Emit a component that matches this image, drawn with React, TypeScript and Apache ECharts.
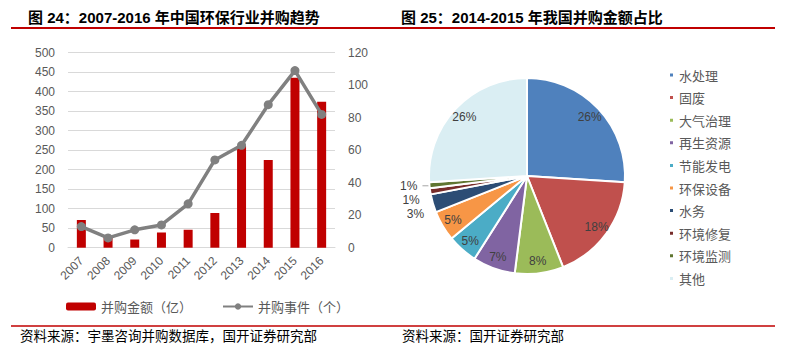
import React, { useEffect, useRef } from "react";
import * as echarts from "echarts";

const years = ["2007", "2008", "2009", "2010", "2011", "2012", "2013", "2014", "2015", "2016"];
const dealAmount = [71, 30, 21, 39, 46, 89, 261, 225, 436, 374];
const dealCount = [13, 6, 11, 14, 27, 54, 63, 88, 109, 82];

const sectors = ["水处理", "固废", "大气治理", "再生资源", "节能发电", "环保设备", "水务", "环境修复", "环境监测", "其他"];
const shares = [26, 18, 8, 7, 5, 5, 3, 1, 1, 26];
const sectorColors = ["#4F81BD", "#C0504D", "#9BBB59", "#8064A2", "#4BACC6", "#F79646", "#2C4D75", "#772C2A", "#5F7530", "#DAEEF3"];
const smallSlices = ["水务", "环境修复", "环境监测"];

const latin = "'Liberation Sans', 'Noto Sans CJK SC', sans-serif";
const cjk = "'Noto Sans CJK SC', sans-serif";

export default function App() {
  const ref = useRef<HTMLDivElement>(null);
  useEffect(() => {
    if (!ref.current) return;
    const chart = echarts.init(ref.current, null, { renderer: "svg" });
    const mainPieData = sectors.map((name, i) => {
      const small = smallSlices.includes(name);
      return {
        name,
        value: shares[i],
        itemStyle: { color: sectorColors[i] },
        label: { show: small },
        labelLine: { show: name === "环境监测" },
      };
    });
    const overlayData = sectors.map((name, i) => ({
      name,
      value: shares[i],
      label: { show: !smallSlices.includes(name) },
    }));
    chart.setOption({
      animation: false,
      title: [
        {
          text: "图 24：2007-2016 年中国环保行业并购趋势",
          left: 28,
          top: 10,
          padding: 0,
          textStyle: { fontSize: 15, fontWeight: "bold", color: "#000", fontFamily: latin },
        },
        {
          text: "图 25：2014-2015 年我国并购金额占比",
          left: 401,
          top: 10,
          padding: 0,
          textStyle: { fontSize: 15, fontWeight: "bold", color: "#000", fontFamily: latin },
        },
        {
          text: "资料来源：宇墨咨询并购数据库，国开证券研究部",
          left: 20,
          top: 328,
          padding: 0,
          textStyle: { fontSize: 13.5, fontWeight: "normal", color: "#000", fontFamily: cjk },
        },
        {
          text: "资料来源：国开证券研究部",
          left: 402,
          top: 328,
          padding: 0,
          textStyle: { fontSize: 13.5, fontWeight: "normal", color: "#000", fontFamily: cjk },
        },
      ],
      graphic: [
        { type: "line", shape: { x1: 11, y1: 28, x2: 775, y2: 28 }, style: { stroke: "#C00000", lineWidth: 2 } },
        { type: "line", shape: { x1: 11, y1: 326, x2: 775, y2: 326 }, style: { stroke: "#C00000", lineWidth: 1.5 } },
      ],
      legend: [
        {
          data: ["并购金额（亿）", "并购事件（个）"],
          left: 66,
          top: 300,
          padding: 0,
          itemWidth: 30,
          itemHeight: 8,
          itemGap: 30,
          textStyle: { fontSize: 13, color: "#595959", fontFamily: cjk },
        },
        {
          data: sectors.map((name, i) => ({ name, itemStyle: { color: sectorColors[i] } })),
          orient: "vertical",
          left: 668,
          top: 68,
          padding: 0,
          icon: "rect",
          itemWidth: 5,
          itemHeight: 5,
          itemGap: 8.6,
          textStyle: { fontSize: 13, color: "#595959", fontFamily: cjk, lineHeight: 14 },
        },
      ],
      grid: [{ left: 68, top: 52.7, width: 267, height: 195 }],
      xAxis: [
        {
          type: "category",
          data: years,
          gridIndex: 0,
          axisLine: { lineStyle: { color: "#D9D9D9" } },
          axisTick: { show: false },
          axisLabel: { rotate: 45, margin: 11, fontSize: 12, color: "#595959", fontFamily: latin },
        },
      ],
      yAxis: [
        {
          type: "value",
          gridIndex: 0,
          min: 0,
          max: 500,
          interval: 50,
          axisLine: { show: false },
          axisTick: { show: false },
          splitLine: { lineStyle: { color: "#D9D9D9" } },
          axisLabel: { margin: 13, fontSize: 12, color: "#595959", fontFamily: latin },
        },
        {
          type: "value",
          gridIndex: 0,
          position: "right",
          min: 0,
          max: 120,
          interval: 20,
          axisLine: { show: false },
          axisTick: { show: false },
          splitLine: { show: false },
          axisLabel: { margin: 13, fontSize: 12, color: "#595959", fontFamily: latin },
        },
      ],
      series: [
        {
          name: "并购金额（亿）",
          type: "bar",
          xAxisIndex: 0,
          yAxisIndex: 0,
          data: dealAmount,
          barWidth: 9,
          itemStyle: { color: "#C00000" },
        },
        {
          name: "并购事件（个）",
          type: "line",
          xAxisIndex: 0,
          yAxisIndex: 1,
          data: dealCount,
          symbol: "circle",
          symbolSize: 9,
          lineStyle: { color: "#808080", width: 3.5 },
          itemStyle: { color: "#808080" },
        },
        {
          name: "占比",
          type: "pie",
          center: [527, 176],
          radius: 98,
          startAngle: 90,
          clockwise: true,
          data: mainPieData,
          itemStyle: { borderColor: "#fff", borderWidth: 2 },
          label: {
            position: "outside",
            formatter: "{c}%",
            fontSize: 12,
            color: "#404040",
            fontFamily: latin,
          },
          labelLine: { length: 6, length2: 6, lineStyle: { color: "#A6A6A6", width: 1 } },
          avoidLabelOverlap: true,
        },
        {
          name: "占比标签",
          type: "pie",
          center: [527, 176],
          radius: [0, 166],
          startAngle: 90,
          clockwise: true,
          silent: true,
          data: overlayData,
          itemStyle: { color: "rgba(0,0,0,0)", borderWidth: 0 },
          label: {
            position: "inside",
            formatter: "{c}%",
            fontSize: 12,
            color: "#404040",
            fontFamily: latin,
          },
          labelLine: { show: false },
          z: 3,
        },
      ],
    });
    return () => chart.dispose();
  }, []);
  return (
    <div
      ref={ref}
      style={{ position: "absolute", left: 0, top: 0, width: 792, height: 354, background: "#fff" }}
    />
  );
}
